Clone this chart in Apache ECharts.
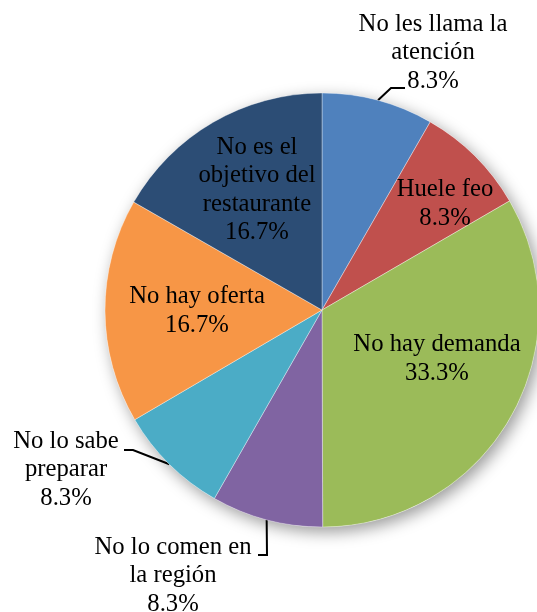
<!DOCTYPE html>
<html>
<head>
<meta charset="utf-8">
<script src="https://cdn.jsdelivr.net/npm/echarts@6/dist/echarts.min.js"></script>
<style>
html,body{margin:0;padding:0;background:#fff;}
#chart{width:537px;height:612px;}
</style>
</head>
<body>
<div id="chart"></div>
<script>
// ---- data ----
var categories = [
  'No les llama la\natención',
  'Huele feo',
  'No hay demanda',
  'No lo comen en\nla región',
  'No lo sabe\npreparar',
  'No hay oferta',
  'No es el\nobjetivo del\nrestaurante'
];
var percentages = [8.3, 8.3, 33.3, 8.3, 8.3, 16.7, 16.7];
var colors = ['#4F81BD', '#C0504D', '#9BBB59', '#8064A2', '#4BACC6', '#F79646', '#2C4D75'];
var insideLabel = [false, true, true, false, false, true, true];

// ---- label placement (layout only) ----
var labelPlace = [
  {x: 433, y: 53, line: [[391, 88], [405, 88]]},
  {x: 445, y: 204},
  {x: 437, y: 359},
  {x: 173, y: 576, line: [[267, 555], [258, 555]]},
  {x: 66, y: 470, line: [[133, 450], [124, 450]]},
  {x: 197, y: 311},
  {x: 257, y: 190}
];

var FONT = 'Liberation Serif';
var FS = 24.7;
var LH = 28.5;

var chart = echarts.init(document.getElementById('chart'), null, {renderer: 'canvas'});
var data = categories.map(function (c, i) {
  return {
    name: c,
    value: percentages[i],
    itemStyle: {color: colors[i]},
    label: {
      position: insideLabel[i] ? 'inside' : 'outside',
      fontFamily: FONT, fontSize: FS, lineHeight: LH, color: '#000'
    },
    labelLine: {show: !insideLabel[i]}
  };
});

chart.setOption({
  animation: false,
  textStyle: {fontFamily: FONT},
  series: [
    {
      type: 'pie',
      silent: true,
      center: [322, 310],
      radius: 217,
      label: {show: false},
      labelLine: {show: false},
      itemStyle: {color: '#fff', shadowBlur: 16, shadowColor: 'rgba(0,0,0,0.4)', shadowOffsetX: 4, shadowOffsetY: 5},
      data: [{value: 1, name: ''}],
      z: 1
    },
    {
      type: 'pie',
      center: [322, 310],
      radius: 217,
      startAngle: 90,
      clockwise: true,
      avoidLabelOverlap: false,
      itemStyle: {borderColor: 'rgba(255,255,255,0.6)', borderWidth: 0.6},
      label: {
        show: true,
        align: 'center',
        overflow: 'none',
        fontFamily: FONT,
        fontSize: FS,
        lineHeight: LH,
        color: '#000',
        formatter: function (p) { return p.name + '\n' + p.value.toFixed(1) + '%'; }
      },
      labelLine: {lineStyle: {color: '#000', width: 2}, length: 10, length2: 10},
      labelLayout: function (p) {
        var c = labelPlace[p.dataIndex];
        var out = {x: c.x, y: c.y, align: 'center', verticalAlign: 'middle'};
        if (c.line && p.labelLinePoints) {
          out.labelLinePoints = [p.labelLinePoints[0]].concat(c.line);
        }
        return out;
      },
      emphasis: {disabled: true},
      data: data,
      z: 2
    }
  ]
});
</script>
</body>
</html>
